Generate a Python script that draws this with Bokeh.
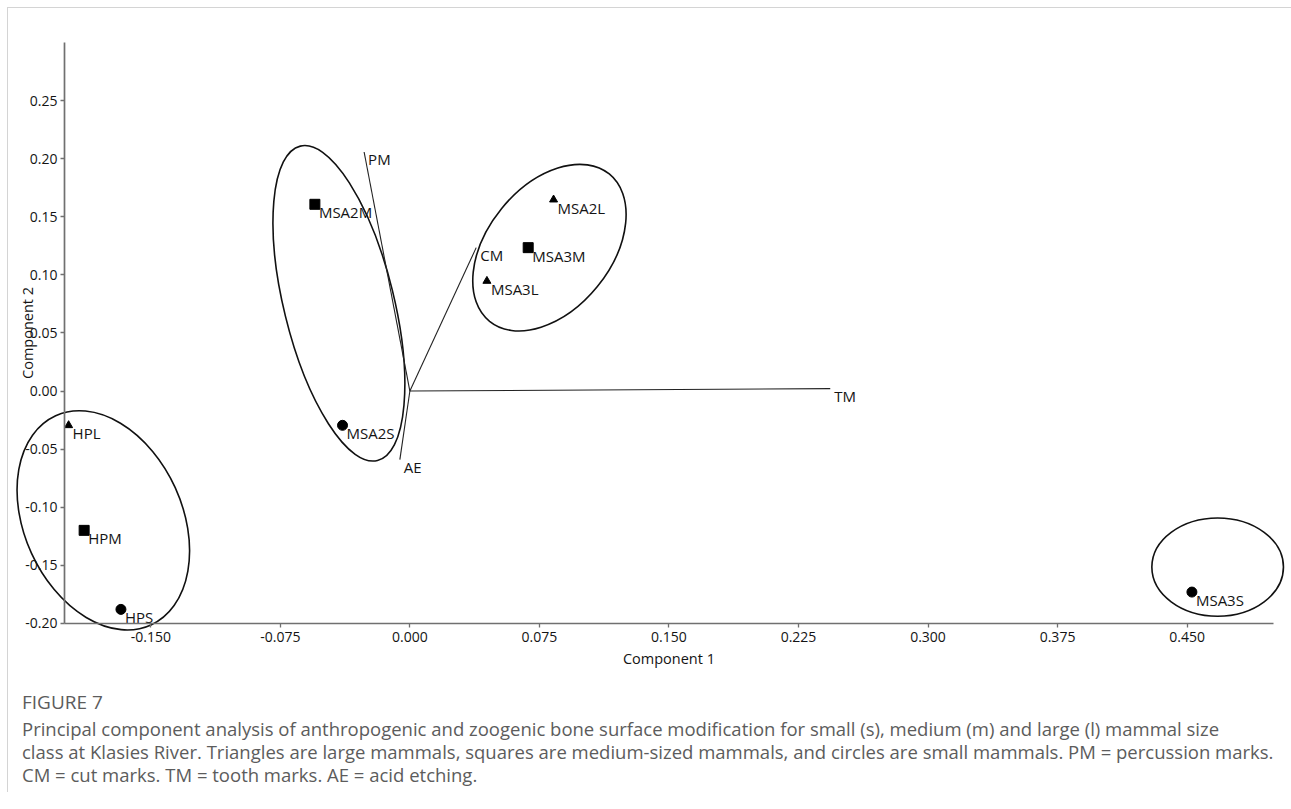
import math
from bokeh.plotting import figure
from bokeh.models import (LinearAxis, FixedTicker, PrintfTickFormatter, Range1d,
                          ColumnDataSource, Div, Label, InlineStyleSheet)
from bokeh.layouts import column
from bokeh.embed import file_html
from bokeh.resources import INLINE
from bokeh.core.properties import value

# ---------------- data ----------------
sample_names = ["MSA2M", "MSA2S", "MSA2L", "MSA3M", "MSA3L", "MSA3S", "HPL", "HPM", "HPS"]
comp1 = [-0.0550, -0.0390, 0.0832, 0.0685, 0.0446, 0.4528, -0.1976, -0.1886, -0.1673]
comp2 = [0.1607, -0.0295, 0.1647, 0.1234, 0.0947, -0.1730, -0.0295, -0.1199, -0.1879]
size_class = ["medium", "small", "large", "medium", "large", "small", "large", "medium", "small"]

var_names = ["PM", "CM", "TM", "AE"]
load1 = [-0.0265, 0.0384, 0.2434, -0.0058]
load2 = [0.2057, 0.1234, 0.0021, -0.0590]

group_cx = [-0.0411, 0.0808, -0.1775, 0.4677]
group_cy = [0.0755, 0.1234, -0.1113, -0.1515]
group_w = [0.0637, 0.1099, 0.0915, 0.0762]
group_h = [0.2788, 0.1064, 0.1978, 0.0847]
group_angle_deg = [13.8, 50.9, 24.5, 0.0]

x_ticks = [-0.15, -0.075, 0.0, 0.075, 0.15, 0.225, 0.3, 0.375, 0.45]
y_ticks = [-0.20, -0.15, -0.10, -0.05, 0.0, 0.05, 0.10, 0.15, 0.20, 0.25]
x_bounds = (-0.2, 0.5)
y_bounds = (-0.2, 0.3)

x_title = "Component 1"
y_title = "Component 2"
figure_label = "FIGURE 7"
caption_lines = [
    "Principal component analysis of anthropogenic and zoogenic bone surface modification for small (s), medium (m) and large (l) mammal size",
    "class at Klasies River. Triangles are large mammals, squares are medium-sized mammals, and circles are small mammals. PM = percussion marks.",
    "CM = cut marks. TM = tooth marks. AE = acid etching.",
]

marker_for = {"small": "circle", "medium": "square", "large": "triangle"}
size_for = {"small": 10, "medium": 10, "large": 8}

# ---------------- figure ----------------
FONT = "Open Sans"
TXT = "#141414"
p = figure(width=1281, height=667,
           x_range=Range1d(-0.2324, 0.5093), y_range=Range1d(-0.2448, 0.3292),
           output_backend="svg", toolbar_location=None,
           x_axis_location=None, y_axis_location=None,
           min_border=0, outline_line_color=None,
           background_fill_color="white", border_fill_color="white")
p.grid.visible = False

axis_color = "#707070"
xaxis = LinearAxis(fixed_location=y_bounds[0], bounds=x_bounds,
                   ticker=FixedTicker(ticks=x_ticks),
                   formatter=PrintfTickFormatter(format="%.3f"))
yaxis = LinearAxis(fixed_location=x_bounds[0], bounds=y_bounds,
                   ticker=FixedTicker(ticks=y_ticks),
                   formatter=PrintfTickFormatter(format="%.2f"))
for ax, standoff in ((xaxis, 5), (yaxis, 3)):
    ax.axis_line_color = axis_color
    ax.axis_line_width = 1.7
    ax.major_tick_line_color = axis_color
    ax.major_tick_line_width = 1.3
    ax.major_tick_out = 4
    ax.major_tick_in = 0
    ax.minor_tick_line_color = None
    ax.major_label_text_font = FONT
    ax.major_label_text_font_size = "14px"
    ax.major_label_text_color = TXT
    ax.major_label_standoff = standoff
p.add_layout(xaxis, "below")
p.add_layout(yaxis, "left")

# axis titles
p.add_layout(Label(x=sum(x_bounds) / 2, y=y_bounds[0], text=x_title, y_offset=-35,
                   text_align="center", text_baseline="middle",
                   text_font=FONT, text_font_size="14.5px", text_color=TXT))
p.add_layout(Label(x=x_bounds[0], y=sum(y_bounds) / 2, text=y_title, x_offset=-37,
                   angle=math.pi / 2, text_align="center", text_baseline="middle",
                   text_font=FONT, text_font_size="14.5px", text_color=TXT))

# group ellipses
ell = ColumnDataSource(dict(x=group_cx, y=group_cy, w=group_w, h=group_h,
                            a=[math.radians(d) for d in group_angle_deg]))
p.ellipse(x="x", y="y", width="w", height="h", angle="a", source=ell,
          fill_color=None, line_color="#111111", line_width=1.6)

# loading vectors
for vx, vy in zip(load1, load2):
    p.line(x=[0, vx], y=[0, vy], line_color="#222222", line_width=1.1)
p.text(x=load1, y=load2, text=var_names, x_offset=4, y_offset=7,
       text_baseline="middle", text_align="left",
       text_font=value(FONT), text_font_size="15px", text_color=TXT)

# sample points
for cls in ("small", "medium", "large"):
    idx = [i for i, c in enumerate(size_class) if c == cls]
    p.scatter(x=[comp1[i] for i in idx], y=[comp2[i] for i in idx],
              marker=marker_for[cls], size=size_for[cls],
              fill_color="black", line_color="black")
p.text(x=comp1, y=comp2, text=sample_names, x_offset=4, y_offset=8,
       text_baseline="middle", text_align="left",
       text_font=value(FONT), text_font_size="15px", text_color=TXT)

# ---------------- caption ----------------
caption = Div(width=1281, text=(
    "<div style=\"padding:11px 0 0 9px; font-family:'Open Sans', sans-serif; color:#5c5c5c;\">"
    f"<div style=\"font-size:19px; line-height:23px; margin-bottom:3px; white-space:nowrap;\">{figure_label}</div>"
    "<div style=\"font-size:18.5px; line-height:23px; white-space:nowrap;\">"
    + "<br>".join(caption_lines) + "</div></div>"))

border_css = InlineStyleSheet(css=":host { border-top: 1px solid #d4d4d4; border-left: 1px solid #d4d4d4; }")
layout = column(p, caption, margin=(7, 0, 0, 7), stylesheets=[border_css])

open("out.html", "w").write(file_html(layout, INLINE))
